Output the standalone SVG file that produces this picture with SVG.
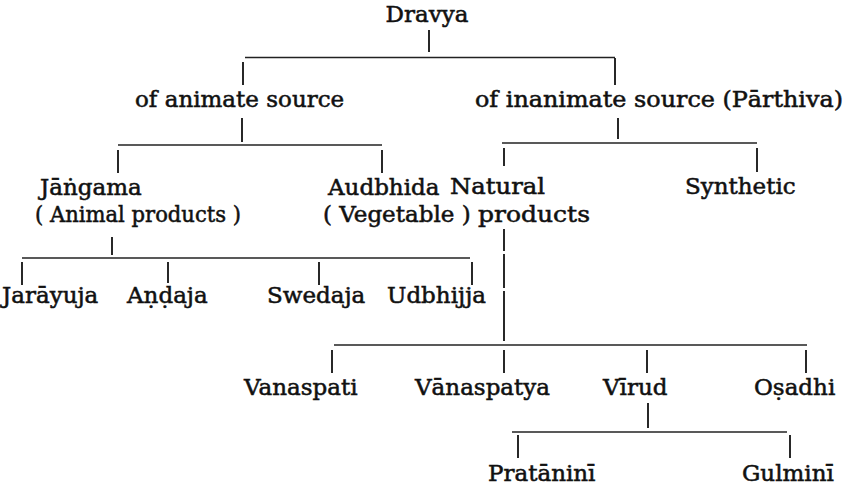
<svg xmlns="http://www.w3.org/2000/svg" width="850" height="490" viewBox="0 0 850 490">
<style>
text { font-family: "DejaVu Serif", "Liberation Serif", serif; font-size: 23px; fill: #111; stroke: #111; stroke-width: 0.55; }
.v { stroke: #111; stroke-width: 1.8; fill: none; }
.h { stroke: #222; stroke-width: 1.3; fill: none; }
</style>
<rect width="850" height="490" fill="#fff"/>
<g id="connectors">
  <line class="v" x1="429" y1="30" x2="429" y2="52"/>
  <line class="h" x1="245" y1="57.5" x2="615" y2="57.5"/>
  <line class="v" x1="243" y1="62" x2="243" y2="85"/>
  <line class="v" x1="615" y1="58" x2="615" y2="85"/>
  <line class="v" x1="242" y1="118" x2="242" y2="142"/>
  <line class="h" x1="118" y1="145" x2="382" y2="145"/>
  <line class="v" x1="118" y1="150" x2="118" y2="173"/>
  <line class="v" x1="382" y1="150" x2="382" y2="173"/>
  <line class="v" x1="618" y1="118" x2="618" y2="139"/>
  <line class="h" x1="502" y1="143" x2="757" y2="143"/>
  <line class="v" x1="504" y1="148" x2="504" y2="166"/>
  <line class="v" x1="757" y1="148" x2="757" y2="172"/>
  <line class="v" x1="112" y1="237" x2="112" y2="255"/>
  <line class="h" x1="22" y1="258" x2="470" y2="258"/>
  <line class="v" x1="22" y1="262" x2="22" y2="285"/>
  <line class="v" x1="168" y1="262" x2="168" y2="283"/>
  <line class="v" x1="319" y1="262" x2="319" y2="285"/>
  <line class="v" x1="472" y1="262" x2="472" y2="285"/>
  <line class="v" x1="504" y1="229" x2="504" y2="251"/>
  <line class="v" x1="504" y1="254" x2="504" y2="288"/>
  <line class="v" x1="504" y1="291" x2="504" y2="341"/>
  <line class="h" x1="334" y1="345" x2="807" y2="345"/>
  <line class="v" x1="332" y1="350" x2="332" y2="373"/>
  <line class="v" x1="504" y1="350" x2="504" y2="373"/>
  <line class="v" x1="647" y1="350" x2="647" y2="373"/>
  <line class="v" x1="806" y1="350" x2="806" y2="373"/>
  <line class="v" x1="648" y1="403" x2="648" y2="428"/>
  <line class="h" x1="512" y1="432" x2="787" y2="432"/>
  <line class="v" x1="518" y1="435" x2="518" y2="458"/>
  <line class="v" x1="790" y1="435" x2="790" y2="458"/>
</g>
<g id="dravya"><text x="427" y="22" text-anchor="middle">Dravya</text></g>
<g id="animate"><text x="135" y="107">of animate source</text></g>
<g id="inanimate"><text x="475" y="107" textLength="368" lengthAdjust="spacingAndGlyphs">of inanimate source (Pārthiva)</text></g>
<g id="jangama"><text x="40" y="195">Jāṅgama</text><text x="35" y="222" textLength="206" lengthAdjust="spacingAndGlyphs">( Animal products )</text></g>
<g id="audbhida"><text x="328" y="195">Audbhida</text><text x="323" y="222">( Vegetable )</text></g>
<g id="natural"><text x="450" y="194" textLength="95" lengthAdjust="spacingAndGlyphs">Natural</text><text x="478" y="222" textLength="112" lengthAdjust="spacingAndGlyphs">products</text></g>
<g id="synthetic"><text x="685" y="194">Synthetic</text></g>
<g id="jarayuja"><text x="2" y="303">Jarāyuja</text></g>
<g id="andaja"><text x="127" y="303">Aṇḍaja</text></g>
<g id="swedaja"><text x="267" y="303">Swedaja</text></g>
<g id="udbhijja"><text x="387" y="303">Udbhijja</text></g>
<g id="vanaspati"><text x="244" y="395">Vanaspati</text></g>
<g id="vanaspatya"><text x="415" y="395">Vānaspatya</text></g>
<g id="virud"><text x="603" y="395">Vīrud</text></g>
<g id="osadhi"><text x="754" y="395">Oṣadhi</text></g>
<g id="prataninI"><text x="488" y="481">Pratāninī</text></g>
<g id="gulmini"><text x="742" y="481">Gulminī</text></g>
</svg>
